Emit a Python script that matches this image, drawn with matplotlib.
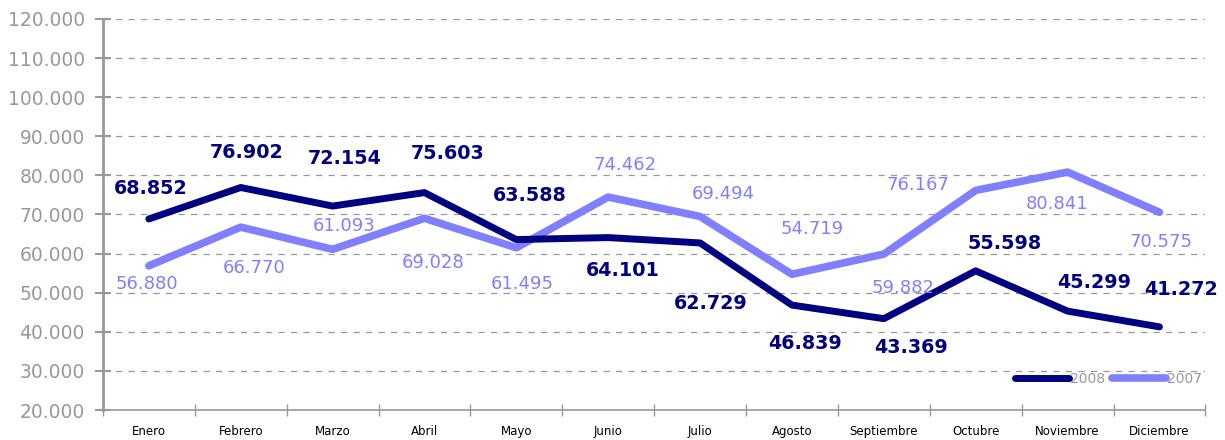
import matplotlib
matplotlib.use("Agg")
import matplotlib.pyplot as plt
from matplotlib.ticker import FuncFormatter, FixedLocator
import numpy as np

meses = ['Enero', 'Febrero', 'Marzo', 'Abril', 'Mayo', 'Junio', 'Julio',
         'Agosto', 'Septiembre', 'Octubre', 'Noviembre', 'Diciembre']
v2008 = [68852, 76902, 72154, 75603, 63588, 64101, 62729, 46839, 43369, 55598, 45299, 41272]
v2007 = [56880, 66770, 61093, 69028, 61495, 74462, 69494, 54719, 59882, 76167, 80841, 70575]

# label offsets in pixels (dx, dy) relative to each point
off2008 = [(2, 30), (6, 35), (12, 48), (23, 39), (13, 44), (15, -33), (11, -61),
           (13, -38), (27, -29), (29, 27), (27, 29), (22, 37)]
off2007 = [(-2, -18), (13, -41), (12, 23), (9, -45), (6, -36), (17, 32), (23, 22),
           (20, 45), (19, -34), (-58, 5), (-11, -32), (2, -30)]

c08 = '#000080'
c07 = '#8080FF'
gris = '#999999'

fig = plt.figure(figsize=(12.25, 4.4), dpi=100)
ax = fig.add_axes([0.084, 0.068, 0.900, 0.889])

x = np.arange(len(meses))
ax.plot(x, v2008, color=c08, lw=5, solid_capstyle='round', solid_joinstyle='round', label='2008', zorder=4)
ax.plot(x, v2007, color=c07, lw=5.5, solid_capstyle='round', solid_joinstyle='round', label='2007', zorder=3)

for i in range(len(meses)):
    ax.annotate(f"{v2008[i]/1000:.3f}", (x[i], v2008[i]), xytext=off2008[i],
                textcoords='offset pixels', ha='center', va='center',
                fontsize=13.8, fontweight='bold', color=c08, zorder=5)
    ax.annotate(f"{v2007[i]/1000:.3f}", (x[i], v2007[i]), xytext=off2007[i],
                textcoords='offset pixels', ha='center', va='center',
                fontsize=13, color=c07, zorder=5)

ax.set_xlim(-0.5, len(meses) - 0.5)
ax.set_ylim(20000, 120000)
ax.set_yticks(np.arange(20000, 120001, 10000))
ax.yaxis.set_major_formatter(FuncFormatter(lambda v, p: f"{v/1000:.3f}"))
ax.tick_params(axis='y', direction='inout', length=12, width=1.5, color=gris,
               labelcolor=gris, labelsize=13.5, pad=7)

ax.xaxis.set_major_locator(FixedLocator(np.arange(-0.5, len(meses), 1)))
ax.xaxis.set_minor_locator(FixedLocator(x))
ax.set_xticklabels([])
ax.set_xticklabels(meses, minor=True)
ax.tick_params(axis='x', which='major', direction='inout', length=8, width=1, color=gris)
ax.tick_params(axis='x', which='minor', length=0, labelsize=8.5, pad=11)

for s in ['top', 'right']:
    ax.spines[s].set_visible(False)
ax.spines['left'].set_color(gris)
ax.spines['left'].set_linewidth(2)
ax.spines['bottom'].set_color(gris)
ax.spines['bottom'].set_linewidth(1.2)

ax.grid(axis='y', color=gris, ls=(0, (5, 5)), lw=0.9)
ax.set_axisbelow(True)

leg = ax.legend(loc='lower right', bbox_to_anchor=(1.008, 0.03), ncol=2, frameon=False,
                handlelength=3.9, handletextpad=0.05, columnspacing=0.5, fontsize=10)
for t in leg.get_texts():
    t.set_color(gris)

fig.savefig('out.png', dpi=100)
